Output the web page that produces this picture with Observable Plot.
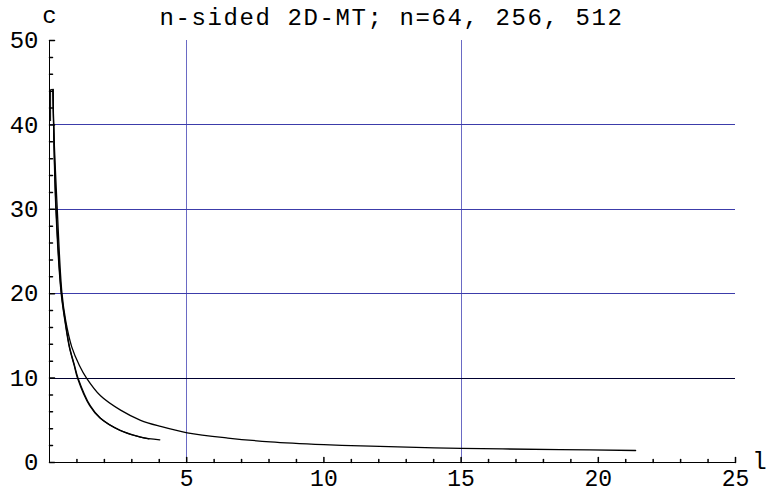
<!DOCTYPE html>
<html><head>
<meta charset="utf-8">
<script src="https://cdn.jsdelivr.net/npm/d3@7"></script>
<script src="https://cdn.jsdelivr.net/npm/@observablehq/plot@0.6"></script>
<style>body{margin:0;background:#fff}#chart svg{display:block}</style>
</head><body><div id="chart"></div>
<script>
// ---- data ----
const titleText = "n-sided 2D-MT; n=64, 256, 512";
const seriesNames = ["n=64", "n=256", "n=512"];

// long curve
const longL = [0.13, 0.15, 0.28, 0.45, 0.59, 0.81, 1.09, 1.35, 1.86, 2.59, 3.32, 4.05, 5.02, 6.5, 8.05, 10, 11.7, 15.0, 18.6, 21.36];
const longC = [44.2, 40.1, 30.2, 20.2, 16.8, 13.7, 11.5, 10.0, 7.9, 6.2, 5.0, 4.27, 3.52, 2.9, 2.45, 2.12, 1.93, 1.68, 1.53, 1.42];
// steep curve ending near l=4
const midL = [0.13, 0.15, 0.24, 0.43, 0.57, 0.73, 0.91, 1.04, 1.49, 1.86, 2.59, 3.32, 4.02];
const midC = [44.2, 40.1, 30.2, 20.2, 16.8, 13.7, 11.5, 10.0, 6.7, 5.25, 3.79, 3.0, 2.69];
// steep curve ending near l=3.6 (first points form the small step at the top)
const shortL = [0.04, 0.04, 0.12, 0.15, 0.23, 0.42, 0.56, 0.72, 0.9, 1.02, 1.46, 1.83, 2.55, 3.28, 3.62];
const shortC = [40.5, 44.2, 44.2, 40.1, 30.2, 20.2, 16.8, 13.7, 11.5, 10.0, 6.75, 5.3, 3.84, 3.04, 2.8];
const shortHeadCount = 4;

const xMajor = [5, 10, 15, 20, 25];
const xMinor = d3.range(1, 25).filter(v => v % 5 !== 0);
const yMajor = [0, 10, 20, 30, 40, 50];
const yMinor = d3.range(2, 50, 2).filter(v => v % 10 !== 0);
const gridX = [5, 15];
const gridYBlue = [20, 30, 40];
const gridYDark = [10];

// ---- build tables ----
const smoothRows = [];
const headRows = [];
[[longL, longC, seriesNames[2], 0], [midL, midC, seriesNames[0], 0], [shortL, shortC, seriesNames[1], shortHeadCount]]
  .forEach(([ls, cs, n, head]) => ls.forEach((l, i) => {
    const r = {n, l, c: cs[i]};
    if (i < head) headRows.push(r);
    if (i >= head - 1) smoothRows.push(r);
  }));

const tickShape = {draw(ctx, l) { ctx.moveTo(0, 0); ctx.lineTo(0, -l); }};
const FONT = 24;

const chart = Plot.plot({
  width: 766, height: 493,
  marginLeft: 49, marginRight: 31, marginTop: 40, marginBottom: 31,
  style: {fontFamily: "'Liberation Mono', 'Courier New', monospace", fontSize: FONT + "px", background: "#fff", color: "#000"},
  x: {domain: [0, 25], axis: null},
  y: {domain: [0, 50], axis: null},
  marks: [
    Plot.ruleX(gridX, {stroke: "#6a6ac4", strokeWidth: 1, shapeRendering: "crispEdges"}),
    Plot.ruleY(gridYBlue, {stroke: "#3c3caa", strokeWidth: 1, shapeRendering: "crispEdges"}),
    Plot.ruleY(gridYDark, {stroke: "#000030", strokeWidth: 1, shapeRendering: "crispEdges"}),
    Plot.line(smoothRows, {x: "l", y: "c", z: "n", stroke: "#000", strokeWidth: 1.3, curve: "catmull-rom"}),
    Plot.line(headRows, {x: "l", y: "c", z: "n", stroke: "#000", strokeWidth: 1, curve: "linear"}),
    Plot.ruleX([0], {stroke: "#000", strokeWidth: 1, shapeRendering: "crispEdges"}),
    Plot.ruleY([0], {stroke: "#000", strokeWidth: 1, shapeRendering: "crispEdges"}),
    Plot.vector(xMajor, {x: d => d, y: () => 0, length: 5, anchor: "start", shape: tickShape, stroke: "#000"}),
    Plot.vector(xMinor, {x: d => d, y: () => 0, length: 3, anchor: "start", shape: tickShape, stroke: "#000"}),
    Plot.vector(yMajor, {x: () => 0, y: d => d, length: 5, rotate: 90, anchor: "start", shape: tickShape, stroke: "#000"}),
    Plot.vector(yMinor, {x: () => 0, y: d => d, length: 3, rotate: 90, anchor: "start", shape: tickShape, stroke: "#000"}),
    Plot.text(xMajor, {x: d => d, y: () => 0, text: d => String(d), dy: 16, fontSize: 23, textAnchor: "middle", lineAnchor: "middle", fill: "#000"}),
    Plot.text(yMajor, {x: () => 0, y: d => d, text: d => String(d), dx: -11, textAnchor: "end", lineAnchor: "middle", fill: "#000"}),
    Plot.text(["c"], {frameAnchor: "top-left", dy: -25, textAnchor: "middle", lineAnchor: "middle", fill: "#000"}),
    Plot.text(["l"], {frameAnchor: "bottom-right", dx: 24, dy: -1, textAnchor: "middle", lineAnchor: "middle", fill: "#000"}),
    Plot.text([titleText], {frameAnchor: "top", dy: -23, dx: -1, textAnchor: "middle", lineAnchor: "middle", fill: "#000"})
  ]
});
// widen title tracking to match the reference width
chart.querySelectorAll("text").forEach(t => { if (t.textContent === titleText) t.setAttribute("letter-spacing", "1.6"); });
document.getElementById("chart").appendChild(chart);
</script>
</body></html>
